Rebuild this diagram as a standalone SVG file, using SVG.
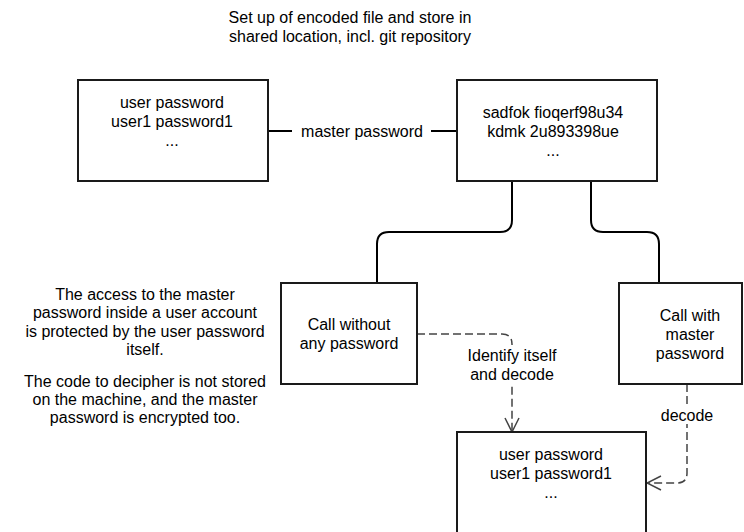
<svg xmlns="http://www.w3.org/2000/svg" width="744" height="532" viewBox="0 0 744 532">
<style>
text{font-family:"Liberation Sans",Arial,sans-serif;font-size:16px;fill:#000;text-anchor:middle}
.box{fill:#fff;stroke:#1a1a1a;stroke-width:2}
.solid{fill:none;stroke:#000;stroke-width:2}
.dash{fill:none;stroke:#444;stroke-width:1.5;stroke-dasharray:8 4}
</style>
<defs>
<marker id="open" viewBox="0 0 16 16" refX="15" refY="8" markerWidth="16" markerHeight="16" markerUnits="userSpaceOnUse" orient="auto">
<path d="M1 1 L15 8 L1 15" fill="none" stroke="#444" stroke-width="1.5"/>
</marker>
</defs>
<rect width="744" height="532" fill="#fff"/>
<g id="title">
<text x="350" y="23">Set up of encoded file and store in</text>
<text x="350" y="42">shared location, incl. git repository</text>
</g>
<g id="note">
<text x="145" y="300">The access to the master</text>
<text x="145" y="318">password inside a user account</text>
<text x="145" y="337">is protected by the user password</text>
<text x="145" y="355">itself.</text>
<text x="145" y="387">The code to decipher is not stored</text>
<text x="145" y="405">on the machine, and the master</text>
<text x="145" y="423">password is encrypted too.</text>
</g>
<g id="connectors">
<path class="solid" d="M268 131 H292 M431 131 H457"/>
<path class="solid" d="M512 181 V220 Q512 232 500 232 H389 Q377 232 377 244 V283"/>
<path class="solid" d="M591 181 V220 Q591 232 603 232 H647 Q659 232 659 244 V283"/>
<path class="dash" d="M417 334 H502 Q512 334 512 344 V432" marker-end="url(#open)"/>
<path class="dash" d="M687 384 V473 Q687 483 677 483 H647" marker-end="url(#open)"/>
<text x="362" y="137">master password</text>
<rect x="464" y="345" width="96" height="40" fill="#fff"/>
<text x="512" y="361">Identify itself</text>
<text x="512" y="380">and decode</text>
<rect x="657" y="406" width="60" height="18" fill="#fff"/>
<text x="687" y="421">decode</text>
</g>
<g id="users">
<rect class="box" x="78" y="80" width="190" height="101"/>
<text x="172" y="108">user password</text>
<text x="172" y="127">user1 password1</text>
<text x="172" y="146">...</text>
</g>
<g id="encoded">
<rect class="box" x="457" y="80" width="200" height="101"/>
<text x="553" y="118">sadfok fioqerf98u34</text>
<text x="553" y="137">kdmk 2u893398ue</text>
<text x="553" y="156">...</text>
</g>
<g id="nopass">
<rect class="box" x="281" y="283" width="136" height="101"/>
<text x="349" y="330">Call without</text>
<text x="349" y="349">any password</text>
</g>
<g id="withpass">
<rect class="box" x="619" y="283" width="123" height="101"/>
<text x="690" y="321">Call with</text>
<text x="690" y="340">master</text>
<text x="690" y="359">password</text>
</g>
<g id="decoded">
<rect class="box" x="457" y="432" width="189" height="110"/>
<text x="551" y="460">user password</text>
<text x="551" y="479">user1 password1</text>
<text x="551" y="498">...</text>
</g>
</svg>
